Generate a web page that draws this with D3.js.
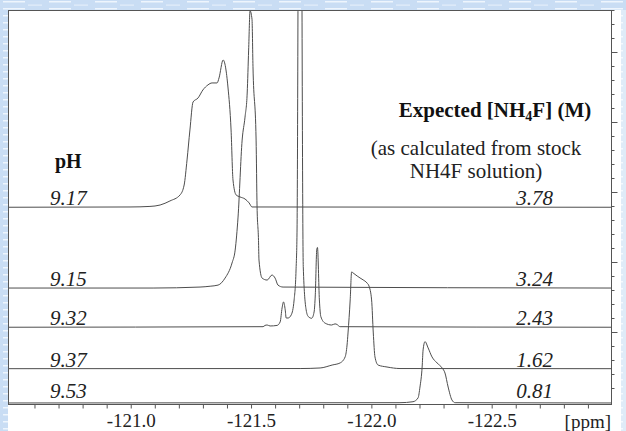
<!DOCTYPE html>
<html>
<head>
<meta charset="utf-8">
<script src="https://cdn.jsdelivr.net/npm/d3@7"></script>
<style>
  body { margin: 0; background: #fff; }
  svg { display: block; }
</style>
</head>
<body>
<svg id="chart" width="626" height="431"></svg>
<script>
// labels per trace, top to bottom
const phLabels = ['9.17', '9.15', '9.32', '9.37', '9.53'];
const concLabels = ['3.78', '3.24', '2.43', '1.62', '0.81'];
// vertical stacking offset of each trace (intensity units)
const offsets = [13.91, 8.14, 5.34, 2.38, -0.07];
const ppmTicks = [-121.0, -121.5, -122.0, -122.5];

// [ppm, intensity above own baseline]
const spec917 = [
  [-120.49, 0], [-120.997, 0.02], [-121.08, 0.06], [-121.122, 0.16], [-121.163, 0.45],
  [-121.205, 0.88], [-121.222, 1.59], [-121.234, 3.38], [-121.246, 5.52], [-121.259, 7.52],
  [-121.28, 7.81], [-121.30, 8.38], [-121.321, 8.74], [-121.338, 8.88], [-121.359, 8.88],
  [-121.367, 9.24], [-121.384, 10.52], [-121.404, 8.59], [-121.417, 5.52], [-121.425, 1.95],
  [-121.438, 0.88], [-121.454, 0.74], [-121.475, 0.59], [-121.492, 0.31], [-121.504, 0.02],
  [-123.0, 0]
];
const spec915 = [
  [-120.49, 0], [-121.093, 0], [-121.288, 0.07], [-121.33, 0.13], [-121.363, 0.21],
  [-121.392, 0.71], [-121.421, 1.79], [-121.434, 2.71], [-121.446, 5.07], [-121.463, 10.57],
  [-121.475, 12.21], [-121.484, 13.93], [-121.49, 17.0], [-121.496, 19.8], [-121.504, 19.2],
  [-121.508, 15.84], [-121.521, 10.57], [-121.525, 5.8], [-121.531, 3.4], [-121.533, 2.0],
  [-121.546, 0.71], [-121.567, 0.57], [-121.587, 0.93], [-121.60, 0.71], [-121.612, 0.21],
  [-121.633, 0.07], [-123.0, 0]
];
const spec932 = [
  [-120.49, 0], [-121.55, 0.04], [-121.558, 0.13], [-121.567, 0.16], [-121.579, 0.09],
  [-121.608, 0.13], [-121.621, 0.38], [-121.629, 1.38], [-121.635, 1.81], [-121.642, 1.24],
  [-121.646, 0.66], [-121.654, 0.66], [-121.667, 0.88], [-121.679, 1.95], [-121.687, 4.09],
  [-121.691, 6.74], [-121.703, 60], [-121.717, 4.33], [-121.729, 1.24], [-121.738, 0.76],
  [-121.752, 0.64], [-121.762, 1.09], [-121.767, 2.31], [-121.773, 5.52], [-121.776, 5.7],
  [-121.784, 1.95], [-121.79, 0.76], [-121.808, 0.29], [-121.835, 0.16], [-121.849, 0.24],
  [-121.857, 0.2], [-121.87, 0.04], [-123.0, 0]
];
const spec937 = [
  [-120.49, 0], [-121.704, 0.01], [-121.787, 0.05], [-121.837, 0.26], [-121.87, 0.41],
  [-121.891, 0.84], [-121.899, 1.69], [-121.903, 2.55], [-121.912, 4.91], [-121.918, 6.91],
  [-121.924, 6.84], [-121.941, 6.62], [-121.953, 6.48], [-121.966, 6.34], [-121.982, 6.12],
  [-121.99, 5.91], [-122.001, 4.91], [-122.008, 2.55], [-122.015, 0.84], [-122.028, 0.26],
  [-122.065, 0.12], [-122.119, 0.01], [-123.0, 0]
];
const spec953 = [
  [-120.49, 0], [-122.119, 0.02], [-122.173, 0.09], [-122.194, 0.36], [-122.202, 1.14],
  [-122.211, 2.57], [-122.215, 3.79], [-122.223, 4.38], [-122.236, 3.93], [-122.252, 3.29],
  [-122.273, 2.86], [-122.294, 2.5], [-122.306, 2.14], [-122.319, 1.14], [-122.335, 0.21],
  [-122.348, 0.02], [-123.0, 0]
];
const spectra = [spec917, spec915, spec932, spec937, spec953];

const svg = d3.select('#chart');
const W = 626, H = 431;
const pL = 8, pR = 612, pT = 10, pB = 405;
const serif = '"Liberation Serif", "Times New Roman", serif';
const ink = '#555';

// water-like background at the page edges
const defs = svg.append('defs');
const pat = defs.append('pattern').attr('id', 'water')
  .attr('patternUnits', 'userSpaceOnUse').attr('width', 46).attr('height', 7);
pat.append('rect').attr('width', 46).attr('height', 7).attr('fill', '#c9ddf4');
pat.append('rect').attr('x', 3).attr('y', 1).attr('width', 22).attr('height', 1.5).attr('fill', '#eef5fd');
pat.append('rect').attr('x', 28).attr('y', 4.5).attr('width', 14).attr('height', 1.2).attr('fill', '#e4eefb');
defs.append('clipPath').attr('id', 'plotclip')
  .append('rect').attr('x', pL).attr('y', pT).attr('width', pR - pL).attr('height', pB - pT);

svg.append('rect').attr('width', W).attr('height', H).attr('fill', '#fff');
svg.append('rect').attr('x', 0).attr('y', 0).attr('width', W).attr('height', pT).attr('fill', 'url(#water)');
svg.append('rect').attr('x', 0).attr('y', 0).attr('width', pL).attr('height', H).attr('fill', 'url(#water)');
svg.append('rect').attr('x', 621).attr('y', 0).attr('width', 5).attr('height', H).attr('fill', 'url(#water)').attr('opacity', 0.6);
svg.append('rect').attr('x', pL).attr('y', pT).attr('width', pR - pL).attr('height', pB - pT).attr('fill', '#fff');

const x = d3.scaleLinear().domain([-120.49, -123.0]).range([pL, pR]);
const y = d3.scaleLinear().domain([0, 28]).range([402, 10]);

// spectra
const plot = svg.append('g').attr('clip-path', 'url(#plotclip)');
spectra.forEach((s, i) => {
  const line = d3.line()
    .x(d => x(d[0]))
    .y(d => y(d[1] + offsets[i]))
    .curve(d3.curveMonotoneX);
  plot.append('path').datum(s)
    .attr('d', line)
    .attr('fill', 'none')
    .attr('stroke', '#4d4d4d')
    .attr('stroke-width', 1);
});

// frame
svg.append('rect').attr('x', pL + 0.5).attr('y', pT + 0.5)
  .attr('width', pR - pL - 1).attr('height', pB - pT - 1)
  .attr('fill', 'none').attr('stroke', ink).attr('stroke-width', 1);

// bottom axis: minor ticks every 0.1 ppm, labels every 0.5
const minor = d3.range(-1206, -1230, -1).map(v => v / 10);
const bx = svg.append('g').attr('transform', `translate(0,${pB - 0.5})`)
  .call(d3.axisBottom(x).tickValues(minor).tickSize(4).tickFormat(''));
bx.select('.domain').remove();
bx.selectAll('line').attr('stroke', ink);

const bl = svg.append('g').attr('transform', `translate(0,${pB})`)
  .call(d3.axisBottom(x).tickValues(ppmTicks).tickSize(0).tickPadding(9).tickFormat(d => d.toFixed(1)));
bl.select('.domain').remove();
bl.selectAll('text').attr('font-family', serif).attr('font-size', 19).attr('fill', '#222');

svg.append('text').attr('x', 611).attr('y', 428).attr('text-anchor', 'end')
  .attr('font-family', serif).attr('font-size', 19).attr('fill', '#222').text('[ppm]');

// right intensity axis, ticks only
const ry = svg.append('g').attr('transform', `translate(${pR - 0.5},0)`)
  .call(d3.axisRight(y).tickValues(d3.range(1, 29)).tickSizeOuter(0)
    .tickSize(3).tickFormat(''));
ry.select('.domain').remove();
ry.selectAll('.tick line')
  .attr('x2', d => d % 5 === 0 ? 6 : 3)
  .attr('stroke', ink);

// labels
svg.append('text').attr('x', 55).attr('y', 168)
  .attr('font-family', serif).attr('font-size', 20).attr('font-weight', 'bold').attr('fill', '#111')
  .text('pH');

phLabels.forEach((t, i) => {
  svg.append('text').attr('x', 50).attr('y', Math.min(y(offsets[i]) - 2, 398))
    .attr('font-family', serif).attr('font-size', 21).attr('font-style', 'italic').attr('fill', '#222')
    .text(t);
});
concLabels.forEach((t, i) => {
  svg.append('text').attr('x', 553).attr('y', Math.min(y(offsets[i]) - 2, 398))
    .attr('text-anchor', 'end')
    .attr('font-family', serif).attr('font-size', 21).attr('font-style', 'italic').attr('fill', '#222')
    .text(t);
});

const head = svg.append('text').attr('x', 495).attr('y', 117).attr('text-anchor', 'middle')
  .attr('font-family', serif).attr('font-size', 21).attr('font-weight', 'bold').attr('fill', '#111');
head.append('tspan').text('Expected [NH');
head.append('tspan').attr('font-size', 14).attr('dy', 4).text('4');
head.append('tspan').attr('dy', -4).text('F] (M)');

svg.append('text').attr('x', 476).attr('y', 155).attr('text-anchor', 'middle')
  .attr('font-family', serif).attr('font-size', 21).attr('fill', '#222')
  .text('(as calculated from stock');
svg.append('text').attr('x', 476).attr('y', 178).attr('text-anchor', 'middle')
  .attr('font-family', serif).attr('font-size', 21).attr('fill', '#222')
  .text('NH4F solution)');
</script>
</body>
</html>
